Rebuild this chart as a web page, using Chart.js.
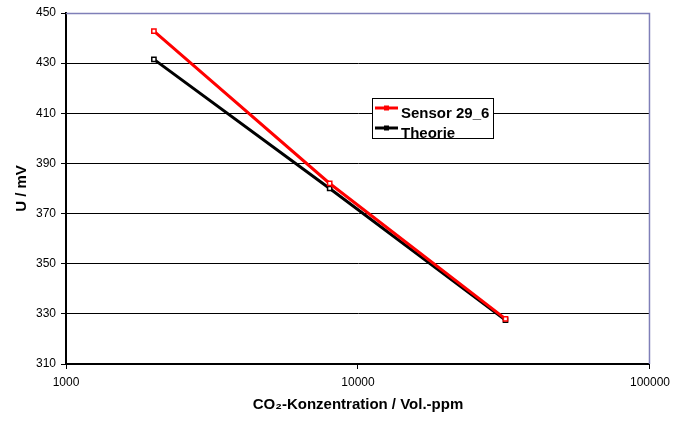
<!DOCTYPE html>
<html>
<head>
<meta charset="utf-8">
<script src="https://cdn.jsdelivr.net/npm/chart.js@4"></script>
<style>
  html, body { margin: 0; padding: 0; background: #fff; }
  #wrap { width: 676px; height: 421px; position: relative; }
</style>
</head>
<body>
<div id="wrap"><canvas id="chart"></canvas></div>
<script>
// CO2-Konzentration (Vol.-ppm) und Sensorspannung (mV)
const concentrations = [2000, 8000, 32000];
const sensorValues = [442.8, 382, 328];
const theoryValues = [431.5, 380, 327.5];
const xTicks = [1000, 10000, 100000];
const seriesNames = ['Sensor 29_6', 'Theorie'];
const seriesColors = ['#ff0000', '#000000'];

const FONT = 'Liberation Sans, Arial, sans-serif';

function toPoints(xs, ys) {
    return xs.map((x, i) => ({ x: x, y: ys[i] }));
}

// oberer und rechter Rahmen der Zeichenfläche
const frame = {
    id: 'frame',
    afterDraw(chart) {
        const { ctx, chartArea: a } = chart;
        ctx.save();
        ctx.strokeStyle = '#7f7fb8';
        ctx.lineWidth = 1.5;
        ctx.beginPath();
        ctx.moveTo(a.left, a.top + 0.5);
        ctx.lineTo(a.right - 0.5, a.top + 0.5);
        ctx.lineTo(a.right - 0.5, a.bottom);
        ctx.stroke();
        ctx.restore();
    }
};

// Legende als Kasten in der Zeichenfläche
const boxLegend = {
    id: 'boxLegend',
    afterDraw(chart) {
        const ctx = chart.ctx;
        const x = 372, y = 98, w = 121, h = 40;
        ctx.save();
        ctx.fillStyle = '#fff';
        ctx.fillRect(x, y, w, h);
        ctx.strokeStyle = '#000';
        ctx.lineWidth = 1;
        ctx.strokeRect(x + 0.5, y + 0.5, w, h);
        ctx.font = 'bold 15px ' + FONT;
        ctx.textBaseline = 'alphabetic';
        chart.data.datasets.forEach((ds, i) => {
            const ly = y + 10 + i * 20;
            ctx.strokeStyle = ds.borderColor;
            ctx.lineWidth = 3;
            ctx.beginPath();
            ctx.moveTo(x + 3, ly);
            ctx.lineTo(x + 26, ly);
            ctx.stroke();
            ctx.fillStyle = ds.borderColor;
            ctx.fillRect(x + 12, ly - 2.5, 5, 5);
            ctx.fillStyle = '#000';
            ctx.fillText(ds.label, x + 29, ly + 9.5);
        });
        ctx.restore();
    }
};

new Chart(document.getElementById('chart'), {
    type: 'line',
    data: {
        datasets: [
            {
                label: seriesNames[0],
                data: toPoints(concentrations, sensorValues),
                borderColor: seriesColors[0],
                backgroundColor: '#fff',
                borderWidth: 3,
                pointStyle: 'rect',
                pointRadius: 3,
                pointBorderWidth: 1.5,
                pointBackgroundColor: '#fff'
            },
            {
                label: seriesNames[1],
                data: toPoints(concentrations, theoryValues),
                borderColor: seriesColors[1],
                backgroundColor: '#fff',
                borderWidth: 3,
                pointStyle: 'rect',
                pointRadius: 3,
                pointBorderWidth: 1.5,
                pointBackgroundColor: '#fff'
            }
        ]
    },
    options: {
        responsive: true,
        maintainAspectRatio: false,
        animation: false,
        layout: { padding: { top: 13, right: 22, left: 0, bottom: 0 } },
        plugins: {
            legend: { display: false },
            tooltip: { enabled: false }
        },
        scales: {
            x: {
                type: 'logarithmic',
                min: 1000,
                max: 100000,
                afterBuildTicks(scale) {
                    scale.ticks = xTicks.map(v => ({ value: v }));
                },
                afterFit(scale) { scale.height = 57; },
                border: { color: '#000', width: 2 },
                grid: { drawOnChartArea: false, color: '#000', tickLength: 5 },
                ticks: {
                    color: '#000',
                    font: { family: FONT, size: 12 },
                    padding: 6,
                    maxRotation: 0,
                    callback: v => String(v)
                },
                title: {
                    display: true,
                    text: 'CO₂-Konzentration / Vol.-ppm',
                    color: '#000',
                    font: { family: FONT, size: 15, weight: 'bold' },
                    padding: { top: 0, bottom: 7 }
                }
            },
            y: {
                min: 310,
                max: 450,
                afterFit(scale) { scale.width = 66; },
                border: { color: '#000', width: 2 },
                grid: { color: '#000', lineWidth: 1, tickLength: 5 },
                ticks: {
                    stepSize: 20,
                    color: '#000',
                    font: { family: FONT, size: 12 },
                    padding: 5
                },
                title: {
                    display: true,
                    text: 'U / mV',
                    color: '#000',
                    font: { family: FONT, size: 15, weight: 'bold' },
                    padding: { top: 13, bottom: 0 }
                }
            }
        }
    },
    plugins: [frame, boxLegend]
});
</script>
</body>
</html>
